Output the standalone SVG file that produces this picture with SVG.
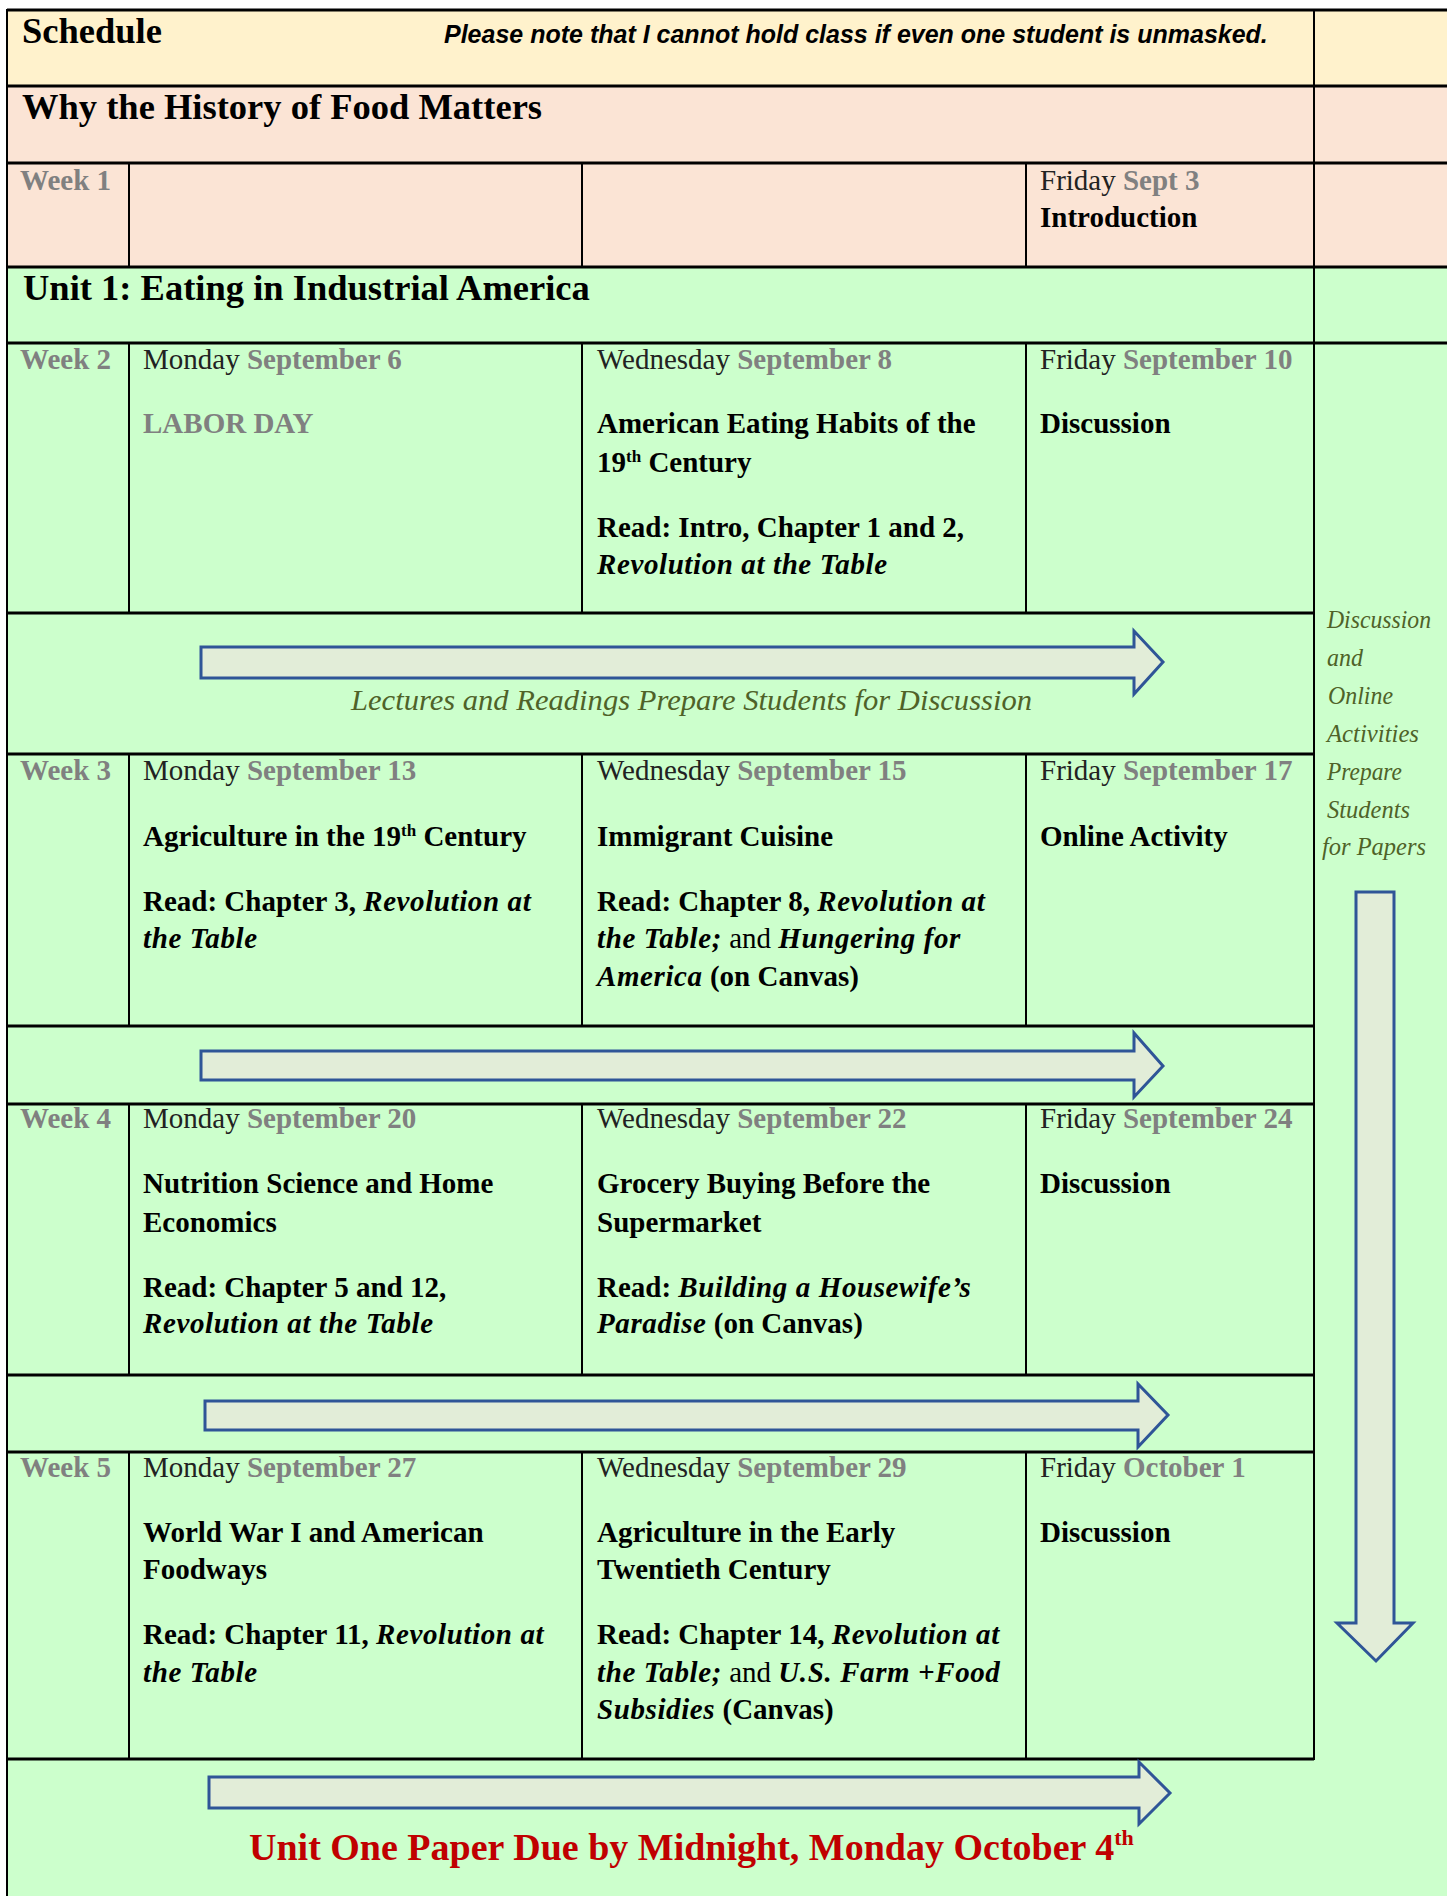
<svg xmlns="http://www.w3.org/2000/svg" width="1447" height="1896" viewBox="0 0 1447 1896">
<style>
text{font-family:"Liberation Serif","Times New Roman",serif;font-size:29px;fill:#000}
.h{font-size:36.5px;font-weight:bold}
.b{font-weight:bold}
.g{font-weight:bold;fill:#808080}
.d{fill:#222}
.i{font-style:italic;font-weight:bold;letter-spacing:0.6px}
.r{font-weight:normal;font-style:normal;letter-spacing:0}
.n{font-style:normal;letter-spacing:0}
.note{font-family:"Liberation Sans",Arial,sans-serif;font-size:25px;font-weight:bold;font-style:italic}
.ol{font-style:italic;fill:#4F6228}
.side{font-size:26px}
.red{font-size:38px;font-weight:bold;fill:#C00000}
.hl{stroke:#000;stroke-width:3}
.vl{stroke:#000;stroke-width:2}
.arrow{fill:#E2EDD8;stroke:#2F5597;stroke-width:3;stroke-linejoin:miter}
</style>
<g id="backgrounds">
<rect x="7" y="10" width="1440" height="76" fill="#FFF2CC"/>
<rect x="7" y="86" width="1440" height="181" fill="#FBE4D5"/>
<rect x="7" y="267" width="1440" height="1629" fill="#CCFFCC"/>
</g>
<g id="grid">
<line class="hl" x1="7" y1="10" x2="1447" y2="10"/>
<line class="hl" x1="7" y1="86" x2="1447" y2="86"/>
<line class="hl" x1="7" y1="163" x2="1447" y2="163"/>
<line class="hl" x1="7" y1="267" x2="1447" y2="267"/>
<line class="hl" x1="7" y1="343" x2="1447" y2="343"/>
<line class="hl" x1="7" y1="613" x2="1314" y2="613"/>
<line class="hl" x1="7" y1="754" x2="1314" y2="754"/>
<line class="hl" x1="7" y1="1026" x2="1314" y2="1026"/>
<line class="hl" x1="7" y1="1104" x2="1314" y2="1104"/>
<line class="hl" x1="7" y1="1375" x2="1314" y2="1375"/>
<line class="hl" x1="7" y1="1452" x2="1314" y2="1452"/>
<line class="hl" x1="7" y1="1759" x2="1314" y2="1759"/>
<line class="vl" x1="7" y1="9" x2="7" y2="1896" stroke-width="2.5"/>
<line class="vl" x1="1314" y1="9" x2="1314" y2="1760"/>
<path class="vl" fill="none" d="M129,163V267M582,163V267M1026,163V267M129,343V613M582,343V613M1026,343V613M129,754V1026M582,754V1026M1026,754V1026M129,1104V1375M582,1104V1375M1026,1104V1375M129,1452V1759M582,1452V1759M1026,1452V1759"/>
</g>
<g id="header">
<text class="h" font-size="37.5" x="22" y="43">Schedule</text>
<text class="note" x="444" y="43">Please note that I cannot hold class if even one student is unmasked.</text>
</g>
<g id="section-why"><text class="h" x="22" y="119">Why the History of Food Matters</text></g>
<g id="week1">
<text class="g" x="20" y="190">Week 1</text>
<text x="1040" y="190"><tspan class="d">Friday </tspan><tspan class="g">Sept 3</tspan></text>
<text class="b" x="1040" y="227">Introduction</text>
</g>
<g id="section-unit1"><text class="h" x="23" y="300">Unit 1: Eating in Industrial America</text></g>
<g id="week2">
<text class="g" x="20" y="369">Week 2</text>
<text x="143" y="369"><tspan class="d">Monday </tspan><tspan class="g">September 6</tspan></text>
<text class="g" x="143" y="433">LABOR DAY</text>
<text x="597" y="369"><tspan class="d">Wednesday </tspan><tspan class="g">September 8</tspan></text>
<text class="b" x="597" y="433">American Eating Habits of the</text>
<text class="b" x="597" y="472">19<tspan font-size="17" dy="-10">th</tspan><tspan dy="10"> Century</tspan></text>
<text class="b" x="597" y="537">Read: Intro, Chapter 1 and 2,</text>
<text class="i" x="597" y="574">Revolution at the Table</text>
<text x="1040" y="369"><tspan class="d">Friday </tspan><tspan class="g">September 10</tspan></text>
<text class="b" x="1040" y="433">Discussion</text>
</g>
<g id="side-note">
<text class="ol side" x="1327" y="628" textLength="104" lengthAdjust="spacingAndGlyphs">Discussion</text>
<text class="ol side" x="1327" y="666" textLength="36" lengthAdjust="spacingAndGlyphs">and</text>
<text class="ol side" x="1328" y="704" textLength="65" lengthAdjust="spacingAndGlyphs">Online</text>
<text class="ol side" x="1327" y="742" textLength="92" lengthAdjust="spacingAndGlyphs">Activities</text>
<text class="ol side" x="1327" y="780" textLength="75" lengthAdjust="spacingAndGlyphs">Prepare</text>
<text class="ol side" x="1327" y="818" textLength="83" lengthAdjust="spacingAndGlyphs">Students</text>
<text class="ol side" x="1322" y="855" textLength="104" lengthAdjust="spacingAndGlyphs">for Papers</text>
</g>
<g id="lectures-note"><text class="ol" font-size="36" x="351" y="710" textLength="681" lengthAdjust="spacingAndGlyphs">Lectures and Readings Prepare Students for Discussion</text></g>
<g id="week3">
<text class="g" x="20" y="780">Week 3</text>
<text x="143" y="780"><tspan class="d">Monday </tspan><tspan class="g">September 13</tspan></text>
<text class="b" x="143" y="846">Agriculture in the 19<tspan font-size="17" dy="-10">th</tspan><tspan dy="10"> Century</tspan></text>
<text class="b" x="143" y="911">Read: Chapter 3, <tspan class="i">Revolution at</tspan></text>
<text class="i" x="143" y="948">the Table</text>
<text x="597" y="780"><tspan class="d">Wednesday </tspan><tspan class="g">September 15</tspan></text>
<text class="b" x="597" y="846">Immigrant Cuisine</text>
<text class="b" x="597" y="911">Read: Chapter 8, <tspan class="i">Revolution at</tspan></text>
<text class="i" x="597" y="948">the Table;<tspan class="r"> and </tspan>Hungering for</text>
<text class="i" x="597" y="986">America<tspan class="n"> (on Canvas)</tspan></text>
<text x="1040" y="780"><tspan class="d">Friday </tspan><tspan class="g">September 17</tspan></text>
<text class="b" x="1040" y="846">Online Activity</text>
</g>
<g id="week4">
<text class="g" x="20" y="1128">Week 4</text>
<text x="143" y="1128"><tspan class="d">Monday </tspan><tspan class="g">September 20</tspan></text>
<text class="b" x="143" y="1193">Nutrition Science and Home</text>
<text class="b" x="143" y="1232">Economics</text>
<text class="b" x="143" y="1297">Read: Chapter 5 and 12,</text>
<text class="i" x="143" y="1333">Revolution at the Table</text>
<text x="597" y="1128"><tspan class="d">Wednesday </tspan><tspan class="g">September 22</tspan></text>
<text class="b" x="597" y="1193">Grocery Buying Before the</text>
<text class="b" x="597" y="1232">Supermarket</text>
<text class="b" x="597" y="1297">Read: <tspan class="i">Building a Housewife’s</tspan></text>
<text class="i" x="597" y="1333">Paradise<tspan class="n"> (on Canvas)</tspan></text>
<text x="1040" y="1128"><tspan class="d">Friday </tspan><tspan class="g">September 24</tspan></text>
<text class="b" x="1040" y="1193">Discussion</text>
</g>
<g id="week5">
<text class="g" x="20" y="1477">Week 5</text>
<text x="143" y="1477"><tspan class="d">Monday </tspan><tspan class="g">September 27</tspan></text>
<text class="b" x="143" y="1542">World War I and American</text>
<text class="b" x="143" y="1579">Foodways</text>
<text class="b" x="143" y="1644">Read: Chapter 11, <tspan class="i">Revolution at</tspan></text>
<text class="i" x="143" y="1682">the Table</text>
<text x="597" y="1477"><tspan class="d">Wednesday </tspan><tspan class="g">September 29</tspan></text>
<text class="b" x="597" y="1542">Agriculture in the Early</text>
<text class="b" x="597" y="1579">Twentieth Century</text>
<text class="b" x="597" y="1644">Read: Chapter 14, <tspan class="i">Revolution at</tspan></text>
<text class="i" x="597" y="1682">the Table;<tspan class="r"> and </tspan>U.S. Farm +Food</text>
<text class="i" x="597" y="1719">Subsidies<tspan class="n"> (Canvas)</tspan></text>
<text x="1040" y="1477"><tspan class="d">Friday </tspan><tspan class="g">October 1</tspan></text>
<text class="b" x="1040" y="1542">Discussion</text>
</g>
<g id="deadline"><text class="red" x="249" y="1860">Unit One Paper Due by Midnight, Monday October 4<tspan font-size="22" dy="-15">th</tspan></text></g>
<g id="connectors">
<path class="arrow" d="M201,647 L1134,647 L1134,631 L1163,662 L1134,694 L1134,678 L201,678 Z"/>
<path class="arrow" d="M201,1051 L1134,1051 L1134,1033 L1163,1066 L1134,1097 L1134,1080 L201,1080 Z"/>
<path class="arrow" d="M205,1401 L1138,1401 L1138,1384 L1168,1415 L1138,1447 L1138,1430 L205,1430 Z"/>
<path class="arrow" d="M209,1777 L1139,1777 L1139,1762 L1170,1793 L1139,1824 L1139,1808 L209,1808 Z"/>
<path class="arrow" d="M1356,892 L1394,892 L1394,1623 L1413,1623 L1376,1661 L1337,1623 L1356,1623 Z"/>
</g>
</svg>
